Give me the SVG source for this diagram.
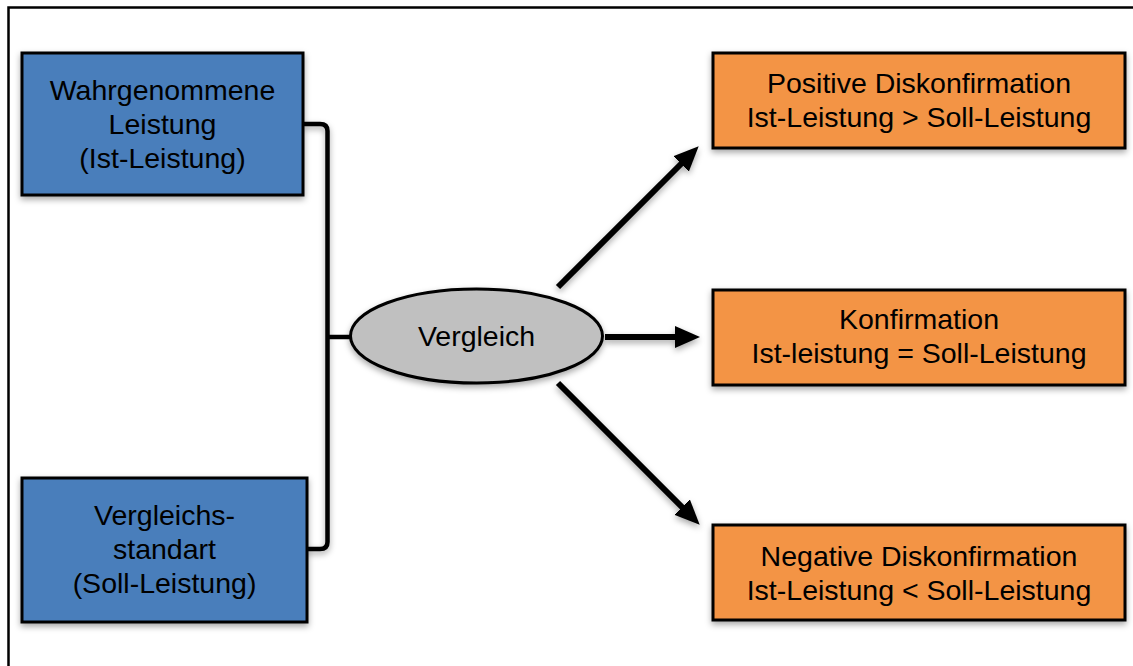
<svg xmlns="http://www.w3.org/2000/svg" width="1133" height="666" viewBox="0 0 1133 666">
  <defs>
    <filter id="sh" filterUnits="userSpaceOnUse" x="0" y="0" width="1133" height="666">
      <feDropShadow dx="0" dy="3" stdDeviation="3" flood-color="#000" flood-opacity="0.35"/>
    </filter>
    <marker id="ah" markerUnits="userSpaceOnUse" markerWidth="26" markerHeight="24" refX="12" refY="12" orient="auto">
      <path d="M0,1 L25,12 L0,23 z" fill="#000"/>
    </marker>
  </defs>
  <style>
    .blue { fill: #4a7ebb; stroke: #000; stroke-width: 3; }
    .orange { fill: #f39445; stroke: #000; stroke-width: 3; }
    .oval { fill: #c0c0c0; stroke: #000; stroke-width: 3; }
    .t { font-family: "Liberation Sans", Arial, sans-serif; font-size: 28.5px; fill: #000; text-anchor: middle; }
    .conn { fill: none; stroke: #000; stroke-width: 4.5; }
    .arr { fill: none; stroke: #000; stroke-width: 6; }
  </style>
  <rect x="0" y="0" width="1133" height="666" fill="#fff"/>
  <rect x="8.5" y="7.5" width="1140" height="700" fill="none" stroke="#000" stroke-width="2.5"/>

  <g id="connectors">
    <path class="conn" d="M303,124 L320,124 Q327.5,124 327.5,131 L327.5,542 Q327.5,549 320,549 L306,549" filter="url(#sh)"/>
    <path class="conn" d="M327.5,337 L351,337"/>
    <line class="arr" x1="558" y1="287" x2="689.5" y2="155.5" marker-end="url(#ah)" filter="url(#sh)"/>
    <line class="arr" x1="605" y1="337" x2="687" y2="337" marker-end="url(#ah)" filter="url(#sh)"/>
    <line class="arr" x1="558" y1="383" x2="690.5" y2="515.5" marker-end="url(#ah)" filter="url(#sh)"/>
  </g>

  <g id="ist">
    <rect class="blue" x="22" y="53" width="281" height="142" filter="url(#sh)"/>
    <text class="t" x="162.5" y="100">Wahrgenommene</text>
    <text class="t" x="162.5" y="134">Leistung</text>
    <text class="t" x="162.5" y="168">(Ist-Leistung)</text>
  </g>

  <g id="soll">
    <rect class="blue" x="22" y="478" width="285" height="144" filter="url(#sh)"/>
    <text class="t" x="164.5" y="525">Vergleichs-</text>
    <text class="t" x="164.5" y="559">standart</text>
    <text class="t" x="164.5" y="593">(Soll-Leistung)</text>
  </g>

  <g id="vergleich">
    <ellipse class="oval" cx="476.5" cy="336" rx="126" ry="47" filter="url(#sh)"/>
    <text class="t" x="476.5" y="346">Vergleich</text>
  </g>

  <g id="positiv">
    <rect class="orange" x="713" y="53" width="412" height="95" filter="url(#sh)"/>
    <text class="t" x="919" y="93">Positive Diskonfirmation</text>
    <text class="t" x="919" y="127">Ist-Leistung &gt; Soll-Leistung</text>
  </g>

  <g id="konfirmation">
    <rect class="orange" x="713" y="290" width="412" height="95" filter="url(#sh)"/>
    <text class="t" x="919" y="329">Konfirmation</text>
    <text class="t" x="919" y="363">Ist-leistung = Soll-Leistung</text>
  </g>

  <g id="negativ">
    <rect class="orange" x="713" y="525" width="412" height="95" filter="url(#sh)"/>
    <text class="t" x="919" y="566">Negative Diskonfirmation</text>
    <text class="t" x="919" y="600">Ist-Leistung &lt; Soll-Leistung</text>
  </g>
</svg>
